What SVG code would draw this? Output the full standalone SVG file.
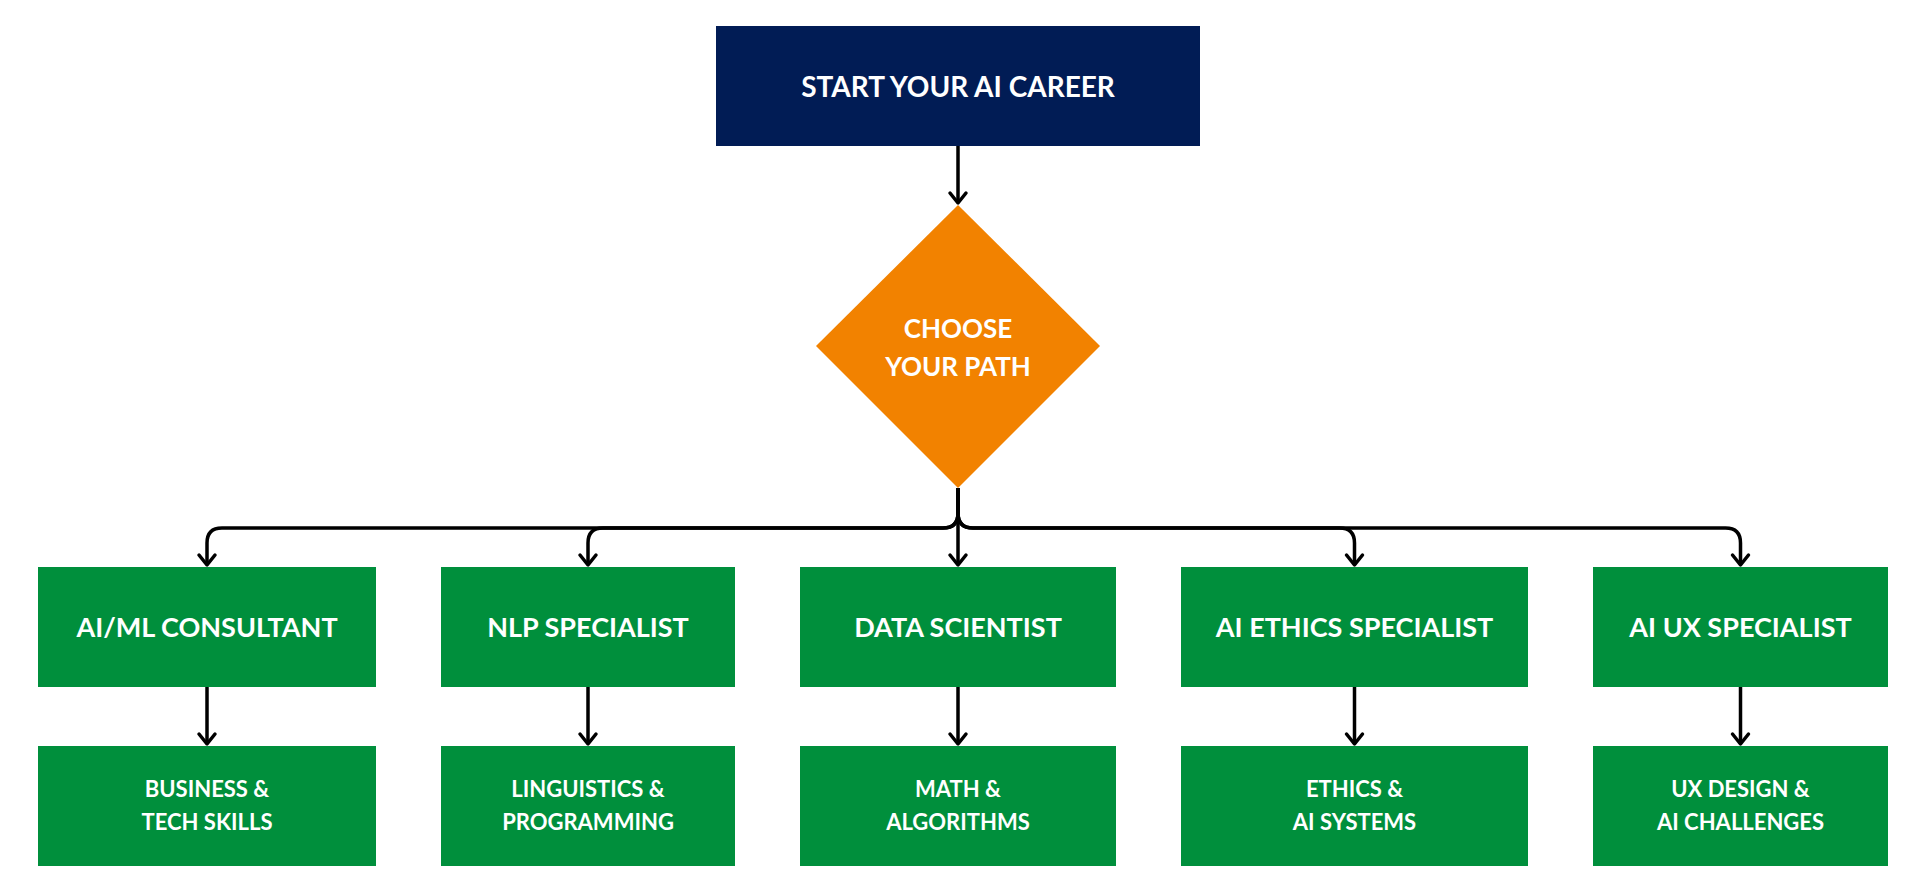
<svg xmlns="http://www.w3.org/2000/svg" width="1920" height="895" viewBox="0 0 1920 895">
<defs>
<marker id="arr" markerUnits="userSpaceOnUse" markerWidth="24" markerHeight="24" viewBox="-14 -12 16 24" refX="0" refY="0" orient="auto">
<path d="M-10,-8 L0,0 L-10,8" fill="none" stroke="#000" stroke-width="3.5" stroke-linecap="round" stroke-linejoin="round"/>
</marker>
</defs>
<style>
.t{font-family:Lato,"Open Sans","Liberation Sans",sans-serif;font-weight:700;fill:#fff;text-anchor:middle}
.big{font-size:27px}
.sm{font-size:22px}
.g{fill:#008f3c}
.c{fill:none;stroke:#000;stroke-width:3.5;marker-end:url(#arr)}
</style>
<rect width="1920" height="895" fill="#fff"/>
<g id="start">
<rect x="716" y="26" width="484" height="120" fill="#011c55"/>
<text class="t" x="958" y="97" font-size="28">START YOUR AI CAREER</text>
</g>
<g id="choose">
<polygon points="958,205 1100,346 958,488 816,346" fill="#f28200"/>
<text class="t" x="958" y="338" font-size="26">CHOOSE</text>
<text class="t" x="958" y="376" font-size="26">YOUR PATH</text>
</g>
<g id="aiml">
<rect class="g" x="38" y="567" width="338" height="120"/>
<text class="t big" x="207" y="637">AI/ML CONSULTANT</text>
</g>
<g id="nlp">
<rect class="g" x="441" y="567" width="294" height="120"/>
<text class="t big" x="588" y="637">NLP SPECIALIST</text>
</g>
<g id="data">
<rect class="g" x="800" y="567" width="316" height="120"/>
<text class="t big" x="958" y="637">DATA SCIENTIST</text>
</g>
<g id="ethics">
<rect class="g" x="1181" y="567" width="347" height="120"/>
<text class="t big" x="1354.5" y="637">AI ETHICS SPECIALIST</text>
</g>
<g id="ux">
<rect class="g" x="1593" y="567" width="295" height="120"/>
<text class="t big" x="1740.5" y="637">AI UX SPECIALIST</text>
</g>
<g id="business">
<rect class="g" x="38" y="746" width="338" height="120"/>
<text class="t sm" x="207" y="797">BUSINESS &amp;</text>
<text class="t sm" x="207" y="830">TECH SKILLS</text>
</g>
<g id="linguistics">
<rect class="g" x="441" y="746" width="294" height="120"/>
<text class="t sm" x="588" y="797">LINGUISTICS &amp;</text>
<text class="t sm" x="588" y="830">PROGRAMMING</text>
</g>
<g id="math">
<rect class="g" x="800" y="746" width="316" height="120"/>
<text class="t sm" x="958" y="797">MATH &amp;</text>
<text class="t sm" x="958" y="830">ALGORITHMS</text>
</g>
<g id="ethicsai">
<rect class="g" x="1181" y="746" width="347" height="120"/>
<text class="t sm" x="1354.5" y="797">ETHICS &amp;</text>
<text class="t sm" x="1354.5" y="830">AI SYSTEMS</text>
</g>
<g id="uxdesign">
<rect class="g" x="1593" y="746" width="295" height="120"/>
<text class="t sm" x="1740.5" y="797">UX DESIGN &amp;</text>
<text class="t sm" x="1740.5" y="830">AI CHALLENGES</text>
</g>
<g id="connectors">
<path class="c" d="M958,146 V203"/>
<path class="c" d="M958,488 V513 Q958,528 943,528 H222 Q207,528 207,543 V565"/>
<path class="c" d="M958,488 V513 Q958,528 943,528 H603 Q588,528 588,543 V565"/>
<path class="c" d="M958,488 V565"/>
<path class="c" d="M958,488 V513 Q958,528 973,528 H1339.5 Q1354.5,528 1354.5,543 V565"/>
<path class="c" d="M958,488 V513 Q958,528 973,528 H1725.5 Q1740.5,528 1740.5,543 V565"/>
<path class="c" d="M207,687 V744"/>
<path class="c" d="M588,687 V744"/>
<path class="c" d="M958,687 V744"/>
<path class="c" d="M1354.5,687 V744"/>
<path class="c" d="M1740.5,687 V744"/>
</g>
</svg>
